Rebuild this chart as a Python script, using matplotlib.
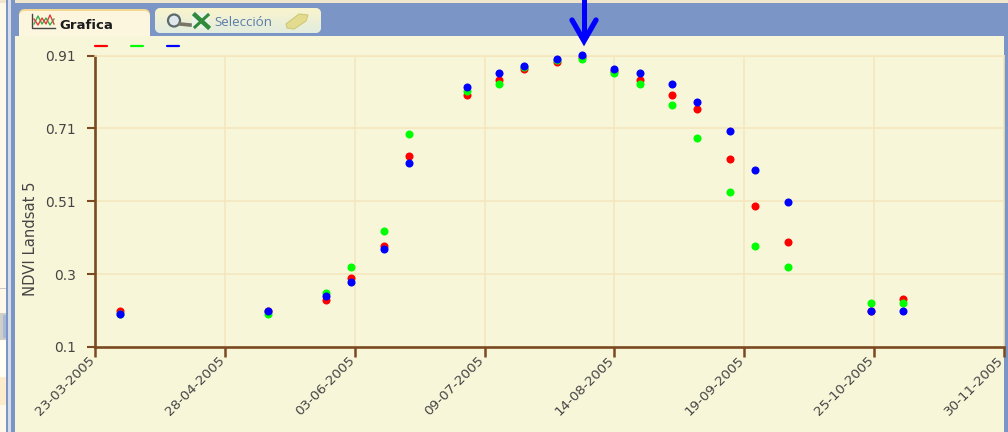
import matplotlib
matplotlib.use("Agg")
import matplotlib.pyplot as plt
import matplotlib.dates as mdates
import matplotlib.transforms as mtrans
import numpy as np
from datetime import datetime
from matplotlib.patches import Rectangle, FancyBboxPatch, Circle, Polygon

dates = ["30-03-2005", "10-05-2005", "26-05-2005", "02-06-2005", "11-06-2005",
         "18-06-2005", "04-07-2005", "13-07-2005", "20-07-2005", "29-07-2005",
         "05-08-2005", "14-08-2005", "21-08-2005", "30-08-2005", "06-09-2005",
         "15-09-2005", "22-09-2005", "01-10-2005", "24-10-2005", "02-11-2005"]
red = [0.201, 0.200, 0.231, 0.291, 0.382, 0.632, 0.800, 0.842, 0.872, 0.891,
       0.906, 0.867, 0.842, 0.801, 0.761, 0.622, 0.492, 0.392, 0.201, 0.233]
green = [0.192, 0.191, 0.251, 0.321, 0.422, 0.692, 0.811, 0.832, 0.879, 0.898,
         0.901, 0.861, 0.831, 0.772, 0.682, 0.532, 0.382, 0.321, 0.222, 0.222]
blue = [0.192, 0.201, 0.241, 0.281, 0.372, 0.611, 0.822, 0.861, 0.882, 0.901,
        0.911, 0.872, 0.861, 0.832, 0.782, 0.701, 0.592, 0.502, 0.201, 0.201]
x_ticks = ["23-03-2005", "28-04-2005", "03-06-2005", "09-07-2005",
           "14-08-2005", "19-09-2005", "25-10-2005", "30-11-2005"]
y_ticks = [0.1, 0.3025, 0.505, 0.7075, 0.91]
y_labels = ["0.1", "0.3", "0.51", "0.71", "0.91"]
y_title = "NDVI Landsat 5"
tab_labels = ["Grafica", "Selección"]

W, H = 1008, 432
PANEL = "#f8f6d9"
BAND = "#7b96c6"
BROWN = "#7a4a20"
GRID = "#f5e6bd"
TEXT = "#444444"


def to_date(s):
    return mdates.date2num(datetime.strptime(s, "%d-%m-%Y"))


fig = plt.figure(figsize=(W / 100, H / 100), dpi=100, facecolor="#fdf8e8")

# window chrome, in pixel coordinates
bg = fig.add_axes([0, 0, 1, 1], zorder=0)
for x, y, w, h, c in [
    (0, 0, W, 3, "#f0e6cc"),
    (15, 3, W - 15, 33, BAND),
    (6, 0, 9, H, BAND),
    (8, 0, 2.5, H, "#d5dde8"),
    (15, 36, 989, H - 36, PANEL),
    (1004, 36, 4, H - 36, BAND),
    (0, 288, 6, 1, "#c9c9c9"),
    (0, 313, 6, 27, "#cfcfc8"),
    (3, 315, 3, 23, "#a9b9d8"),
    (0, 340, 6, 37, "#fffdf4"),
    (0, 377, 6, 28, "#fdeccb"),
    (0, 405, 6, 27, "#fdf8e8"),
]:
    bg.add_patch(Rectangle((x, y), w, h, fc=c, ec="none"))

# tabs
tab2_pad = FancyBboxPatch((155, 8), 166, 25, boxstyle="round,pad=0,rounding_size=6",
                          fc="#e8efdc", ec="none", transform=bg.transData)
bg.add_patch(tab2_pad)
grad = np.linspace(0, 1, 64).reshape(-1, 1)
im = bg.imshow(grad, extent=(155, 321, 33, 8), aspect="auto", zorder=2, origin="upper",
               cmap=matplotlib.colors.LinearSegmentedColormap.from_list(
                   "t", ["#f9f4cd", "#e2ecdf"]))
im.set_clip_path(tab2_pad)
bg.set_xlim(0, W)
bg.set_ylim(H, 0)
bg.axis("off")
bg.add_patch(FancyBboxPatch((19, 9), 131, 30, boxstyle="round,pad=0,rounding_size=6",
                            fc="#f3d894", ec="none", zorder=3))
bg.add_patch(FancyBboxPatch((19, 11), 131, 28, boxstyle="round,pad=0,rounding_size=6",
                            fc="#fdf6df", ec="none", zorder=3))
bg.add_patch(Rectangle((15, 36), 989, 4, fc=PANEL, ec="none", zorder=3))
bg.add_patch(Rectangle((19, 30), 131, 6, fc="#fdf6df", ec="none", zorder=3))

bg.text(59, 25.5, tab_labels[0], fontsize=9.5, fontweight="bold", color="#1c1c1c",
        family="DejaVu Sans", va="center", ha="left", zorder=5)
bg.text(214, 23, tab_labels[1], fontsize=9.6, color="#5b7cab",
        family="Open Sans", va="center", ha="left", zorder=5)

# tab icons
bg.plot([32, 32, 55], [14, 28, 28], color="#444444", lw=1, zorder=5)
bg.plot([34, 38, 42, 46, 50, 54], [24, 16, 24, 18, 25, 19], color="#35b04a", lw=1, zorder=5)
bg.plot([34, 38, 42, 46, 50, 54], [19, 25, 18, 24, 15, 24], color="#e0403f", lw=1, zorder=5)
bg.add_patch(Circle((174, 20.5), 6, fc="#dfe8ea", ec="#5c6a70", lw=1.6, zorder=5))
bg.plot([180, 190], [24, 25], color="#777768", lw=2.6, zorder=5)
bg.add_patch(Rectangle((192, 13), 17, 15, fc="#eef3ea", ec="none", zorder=5))
bg.plot([195, 208], [15, 27], color="#2f8a3c", lw=3.2, zorder=6)
bg.plot([208, 195], [15, 27], color="#2f8a3c", lw=2.2, zorder=6)
bg.add_patch(Polygon([[286, 24], [299, 14], [308, 15], [306, 21], [294, 29], [287, 28]],
                     fc="#e3dc8e", ec="#cfc878", lw=0.8, zorder=5))

# legend swatches
for x0, c in zip([94, 130, 166], ["#ff0000", "#00ff00", "#0000ff"]):
    bg.plot([x0 + 1, x0 + 13], [45.5, 45.5], color=c, lw=1.6, solid_capstyle="round", zorder=5)

# main plot
ax = fig.add_axes([95 / W, 1 - 347 / H, 909 / W, 291.5 / H], zorder=1)
ax.patch.set_alpha(0)
tick_nums = [to_date(s) for s in x_ticks]
ax.set_xlim(tick_nums[0], tick_nums[-1])
ax.set_ylim(0.1, 0.91)
ax.set_xticks(tick_nums)
ax.set_xticklabels(x_ticks, rotation=45, ha="right", rotation_mode="anchor",
                   fontsize=9.7, color=TEXT)
ax.set_yticks(y_ticks)
ax.set_yticklabels(y_labels, fontsize=9.9, color=TEXT)
ax.grid(True, color=GRID, lw=1.1, zorder=0)
ax.set_axisbelow(True)
for s in ("top", "right"):
    ax.spines[s].set_color(GRID)
    ax.spines[s].set_linewidth(1.1)
for s in ("left", "bottom"):
    ax.spines[s].set_color(BROWN)
    ax.spines[s].set_linewidth(1.9)
ax.tick_params(axis="x", length=7, width=1.8, color=BROWN, pad=0)
ax.tick_params(axis="y", length=6, width=1.5, color=BROWN, pad=8)
# nudge the date labels after tick_params, which would reset their transforms
shift = mtrans.ScaledTranslation(-7 / 100, 3 / 100, fig.dpi_scale_trans)
for lab in ax.get_xticklabels():
    lab.set_transform(lab.get_transform() + shift)
ax.set_ylabel(y_title, fontsize=10.6, color=TEXT, labelpad=0)
ax.yaxis.set_label_coords(-57 / 909, 0.37)

xs = [to_date(s) for s in dates]
for vals, c in zip([red, green, blue], ["#ff0000", "#00ff00", "#0000ff"]):
    ax.plot(xs, vals, ls="none", marker="o", ms=5.8, mew=0, color=c,
            clip_on=False, zorder=4)

# hand-drawn arrow
over = fig.add_axes([0, 0, 1, 1], zorder=2)
over.set_xlim(0, W)
over.set_ylim(H, 0)
over.axis("off")
over.plot([583.5, 583.5], [-2, 38], color="#0000ff", lw=3.6, solid_capstyle="butt")
over.plot([572, 584, 596], [20, 41, 20], color="#0000ff", lw=3.8,
          solid_capstyle="round", solid_joinstyle="miter")

fig.savefig("out.png", dpi=100, facecolor=fig.get_facecolor())
